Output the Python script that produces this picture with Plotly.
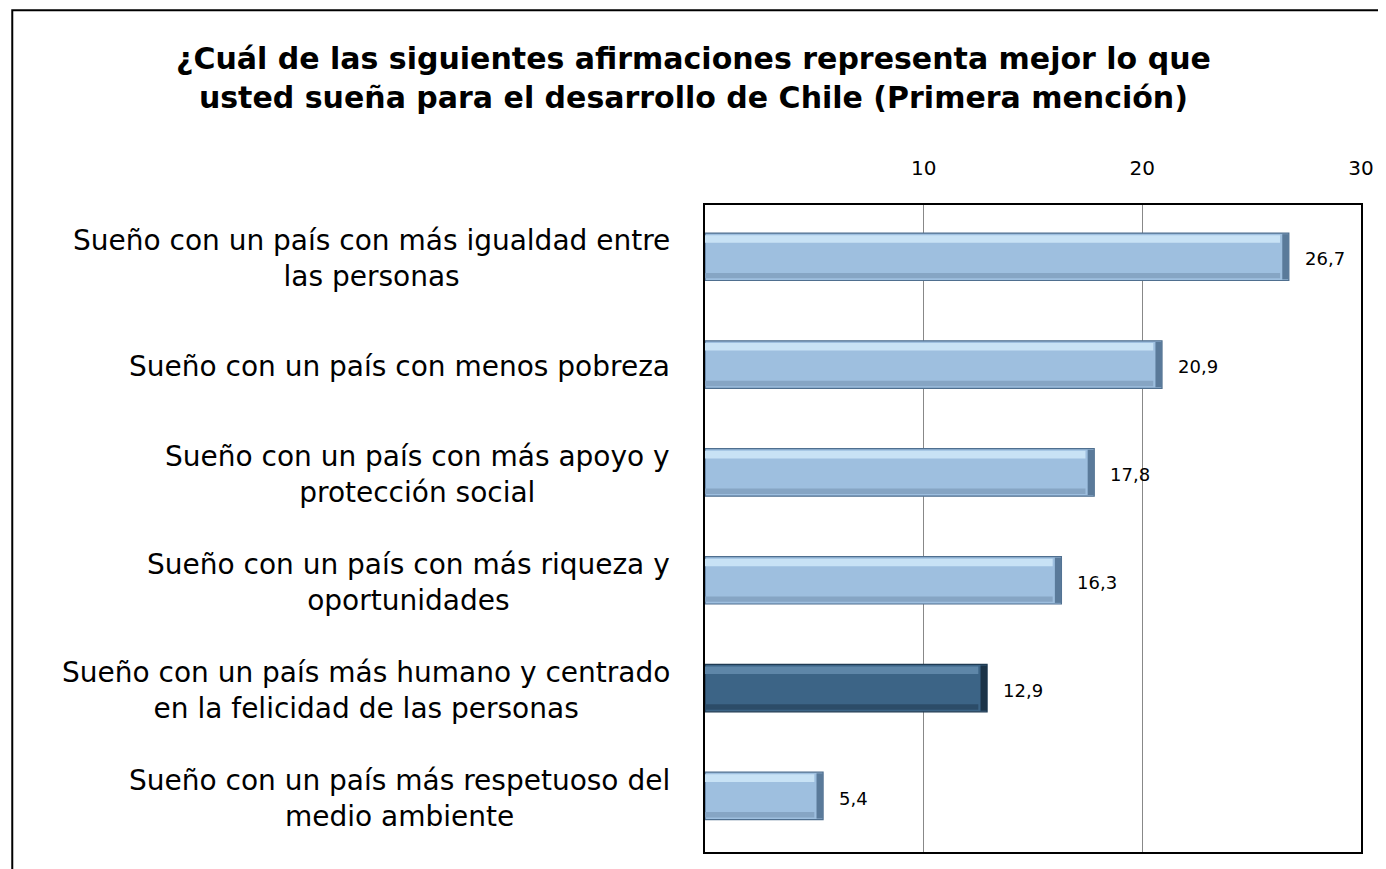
import plotly.graph_objects as go

categorias = [
    "Sueño con un país con más igualdad entre<br>las personas",
    "Sueño con un país con menos pobreza",
    "Sueño con un país con más apoyo y<br>protección social",
    "Sueño con un país con más riqueza y<br>oportunidades",
    "Sueño con un país más humano y centrado<br>en la felicidad de las personas",
    "Sueño con un país más respetuoso del<br>medio ambiente",
]
valores = [26.7, 20.9, 17.8, 16.3, 12.9, 5.4]
resaltado = [False, False, False, False, True, False]
ticks = [10, 20, 30]

titulo = ("¿Cuál de las siguientes afirmaciones representa mejor lo que<br>"
          "usted sueña para el desarrollo de Chile (Primera mención)")

base = ["#3C6486" if r else "#9EBFDF" for r in resaltado]
borde = ["#1E3A52" if r else "#4F6F8F" for r in resaltado]
brillo = ["#5E86A8" if r else "#C8E2F5" for r in resaltado]
sombra = ["#2C4C68" if r else "#86A5C4" for r in resaltado]
punta = ["#1C3448" if r else "#5A7A9A" for r in resaltado]

fig = go.Figure()
fig.add_trace(go.Bar(
    y=categorias, x=valores, orientation="h", width=0.44, offset=-0.24,
    marker=dict(color=base, line=dict(color=borde, width=1.2)),
    hoverinfo="x+y",
))
# bisel: franja clara arriba, oscura abajo y extremo oscuro
fig.add_trace(go.Bar(
    y=categorias, x=[v - 0.4 for v in valores], orientation="h", width=0.07, offset=-0.22,
    marker=dict(color=brillo, line=dict(width=0)), hoverinfo="skip",
))
fig.add_trace(go.Bar(
    y=categorias, x=[v - 0.4 for v in valores], orientation="h", width=0.05, offset=0.13,
    marker=dict(color=sombra, line=dict(width=0)), hoverinfo="skip",
))
fig.add_trace(go.Bar(
    y=categorias, x=[0.3] * len(valores), base=[v - 0.3 for v in valores],
    orientation="h", width=0.42, offset=-0.23,
    marker=dict(color=punta, line=dict(width=0)), hoverinfo="skip",
))

anots = []
for c, v in zip(categorias, valores):
    anots.append(dict(x=v, y=c, xref="x", yref="y", text=f"{v:.1f}".replace(".", ","),
                      showarrow=False, xanchor="left", xshift=14,
                      font=dict(size=18, color="#000000")))
    anots.append(dict(x=-0.05, y=c, xref="paper", yref="y", text=c, showarrow=False,
                      xanchor="right", align="center",
                      font=dict(size=28, color="#000000")))
anots.append(dict(x=-0.018, y=1.197, xref="paper", yref="paper", text="<b>" + titulo + "</b>",
                  showarrow=False, xanchor="center", yanchor="middle", align="center",
                  font=dict(size=30, color="#000000")))

fig.update_layout(
    width=1378, height=861,
    barmode="overlay", showlegend=False,
    plot_bgcolor="white", paper_bgcolor="white",
    font=dict(family="DejaVu Sans", color="#000000"),
    margin=dict(l=697, r=23, t=197, b=17),
    annotations=anots,
    shapes=[dict(type="rect", xref="paper", yref="paper",
                 x0=-1.056, x1=1.06, y0=-0.2, y1=1.301,
                 line=dict(color="#000000", width=2), layer="below")],
)
fig.update_xaxes(range=[0, 30], side="top", tickvals=ticks, showgrid=True,
                 gridcolor="#888888", gridwidth=1, zeroline=False,
                 showline=True, mirror=True, linecolor="#000000", linewidth=1.5,
                 ticks="", tickfont=dict(size=20), ticklabelstandoff=20)
fig.update_yaxes(autorange="reversed", showticklabels=False, showgrid=False,
                 showline=True, mirror=True, linecolor="#000000", linewidth=1.5,
                 ticks="")

fig.write_html("out.html")
